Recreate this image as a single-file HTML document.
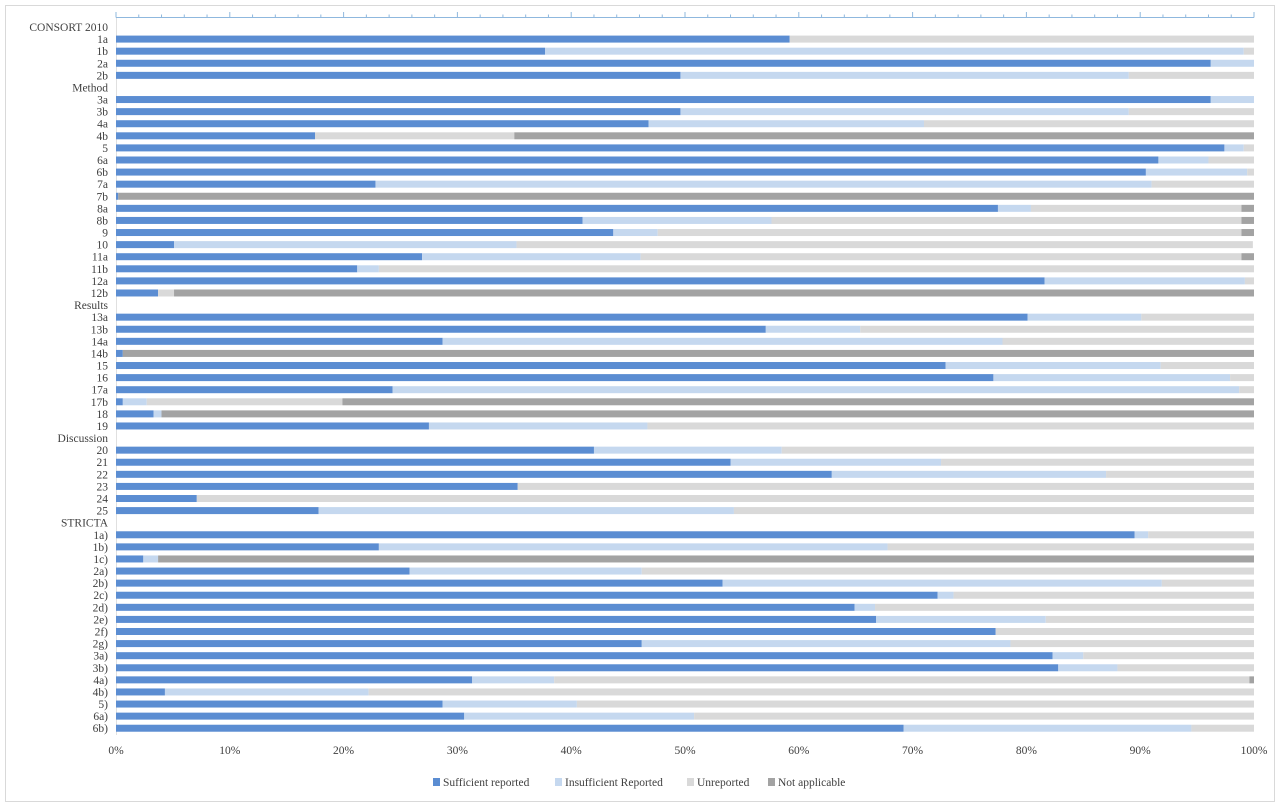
<!DOCTYPE html>
<html><head><meta charset="utf-8">
<style>
html,body{margin:0;padding:0;background:#fff;}
#wrap{position:relative;width:1280px;height:807px;overflow:hidden;}
svg text{font-family:"Liberation Serif",serif;fill:#404040;}
</style></head>
<body>
<div id="wrap">
<svg id="chart" width="1280" height="807"></svg>
</div>
<script>
const categories = ["CONSORT 2010","1a","1b","2a","2b","Method","3a","3b","4a","4b","5","6a","6b","7a","7b","8a","8b","9","10","11a","11b","12a","12b","Results","13a","13b","14a","14b","15","16","17a","17b","18","19","Discussion","20","21","22","23","24","25","STRICTA","1a)","1b)","1c)","2a)","2b)","2c)","2d)","2e)","2f)","2g)","3a)","3b)","4a)","4b)","5)","6a)","6b)"];
const sufficient = [null,59.2,37.7,96.2,49.6,null,96.2,49.6,46.8,17.5,97.4,91.6,90.5,22.8,0.2,77.5,41,43.7,5.1,26.9,21.2,81.6,3.7,null,80.1,57.1,28.7,0.6,72.9,77.1,24.3,0.6,3.3,27.5,null,42,54,62.9,35.3,7.1,17.8,null,89.5,23.1,2.4,25.8,53.3,72.2,64.9,66.8,77.3,46.2,82.3,82.8,31.3,4.3,28.7,30.6,69.2];
const insufficient = [null,0,61.4,3.8,39.4,null,3.8,39.4,24.2,0,1.7,4.4,8.9,68.2,0,2.9,16.6,3.9,30.1,19.2,1.9,17.6,0,null,10,8.3,49.2,0,18.9,20.8,74.4,2.1,0.7,19.2,null,16.5,18.5,24.1,0,0,36.5,null,1.2,44.7,1.3,20.4,38.6,1.4,1.8,14.9,0,32.4,2.7,5.2,7.2,17.9,11.8,20.2,25.3];
const unreported = [null,40.8,0.9,0,11,null,0,11,29,17.5,0.9,4,0.6,9,0,18.5,41.3,51.3,64.7,52.8,76.9,0.8,1.4,null,9.9,34.6,22.1,0,8.2,2.1,1.3,17.2,0,53.3,null,41.5,27.5,13,64.7,92.9,45.7,null,9.3,32.2,0,53.8,8.1,26.4,33.3,18.3,22.7,21.4,15,12,61.1,77.8,59.5,49.2,5.5];
const notApplicable = [null,0,0,0,0,null,0,0,0,65,0,0,0,0,99.8,1.1,1.1,1.1,0,1.1,0,0,94.9,null,0,0,0,99.4,0,0,0,80.1,96,0,null,0,0,0,0,0,0,null,0,0,96.3,0,0,0,0,0,0,0,0,0,0.4,0,0,0,0];
const seriesNames = ["Sufficient reported","Insufficient Reported","Unreported","Not applicable"];
const tickLabels = ["0%","10%","20%","30%","40%","50%","60%","70%","80%","90%","100%"];

const NS="http://www.w3.org/2000/svg";
const svg=document.getElementById('chart');
const X0=116,X1=1254,Y0=27,STEP=12.09,BH=7;
const colors=["#5b8dd2","#c5d8ef","#d9d9d9","#a3a3a3"];
const x=v=>X0+(X1-X0)*v/100;
const y=i=>Y0+i*STEP;
function mk(tag,attrs,parent){const e=document.createElementNS(NS,tag);for(const k in attrs)e.setAttribute(k,attrs[k]);(parent||svg).appendChild(e);return e;}

const frame=mk('rect',{x:5.5,y:5.5,width:1269,height:796,fill:'none',stroke:'#d9d9d9'});



// top axis
const axis=mk('g',{});


mk('line',{x1:X0,y1:17.5,x2:X1,y2:17.5,stroke:'#8fb8de','stroke-width':1},axis);
for(let p=0;p<=100;p+=2){
  const major=p%10===0;
  mk('line',{x1:x(p),x2:x(p),y1:17.5,y2:major?12:14.5,stroke:'#8fb8de','stroke-width':1},axis);
}
const lax=mk('line',{x1:X0+0.5,y1:18,x2:X0+0.5,y2:735,stroke:'#e0e0e0'});



const series=[sufficient,insufficient,unreported,notApplicable];
categories.forEach((c,i)=>{
  const t=mk('text',{x:108,y:y(i)+4,'text-anchor':'end','font-size':'11.5'});
  t.textContent=c;
  
  
  if(sufficient[i]===null)return;
  let acc=0;
  series.forEach((s,k)=>{
    const v=s[i];
    if(v>0){
      const r=mk('rect',{x:x(acc),y:y(i)-BH/2,width:x(acc+v)-x(acc),height:BH,fill:colors[k]});
      
      
    }
    acc+=v;
  });
});

tickLabels.forEach((l,i)=>{
  const t=mk('text',{x:x(i*10),y:754,'text-anchor':'middle','font-size':'11.5'});
  t.textContent=l;
  
  
});

// legend
const lg=mk('g',{});


const lx=[433,555,687,768];
seriesNames.forEach((n,k)=>{
  const g=mk('g',{},lg);
  
  
  mk('rect',{x:lx[k],y:778,width:7,height:8,fill:colors[k]},g);
  const t=mk('text',{x:lx[k]+10,y:786,'font-size':'11.5'},g);
  t.textContent=n;
});
</script>
</body></html>
